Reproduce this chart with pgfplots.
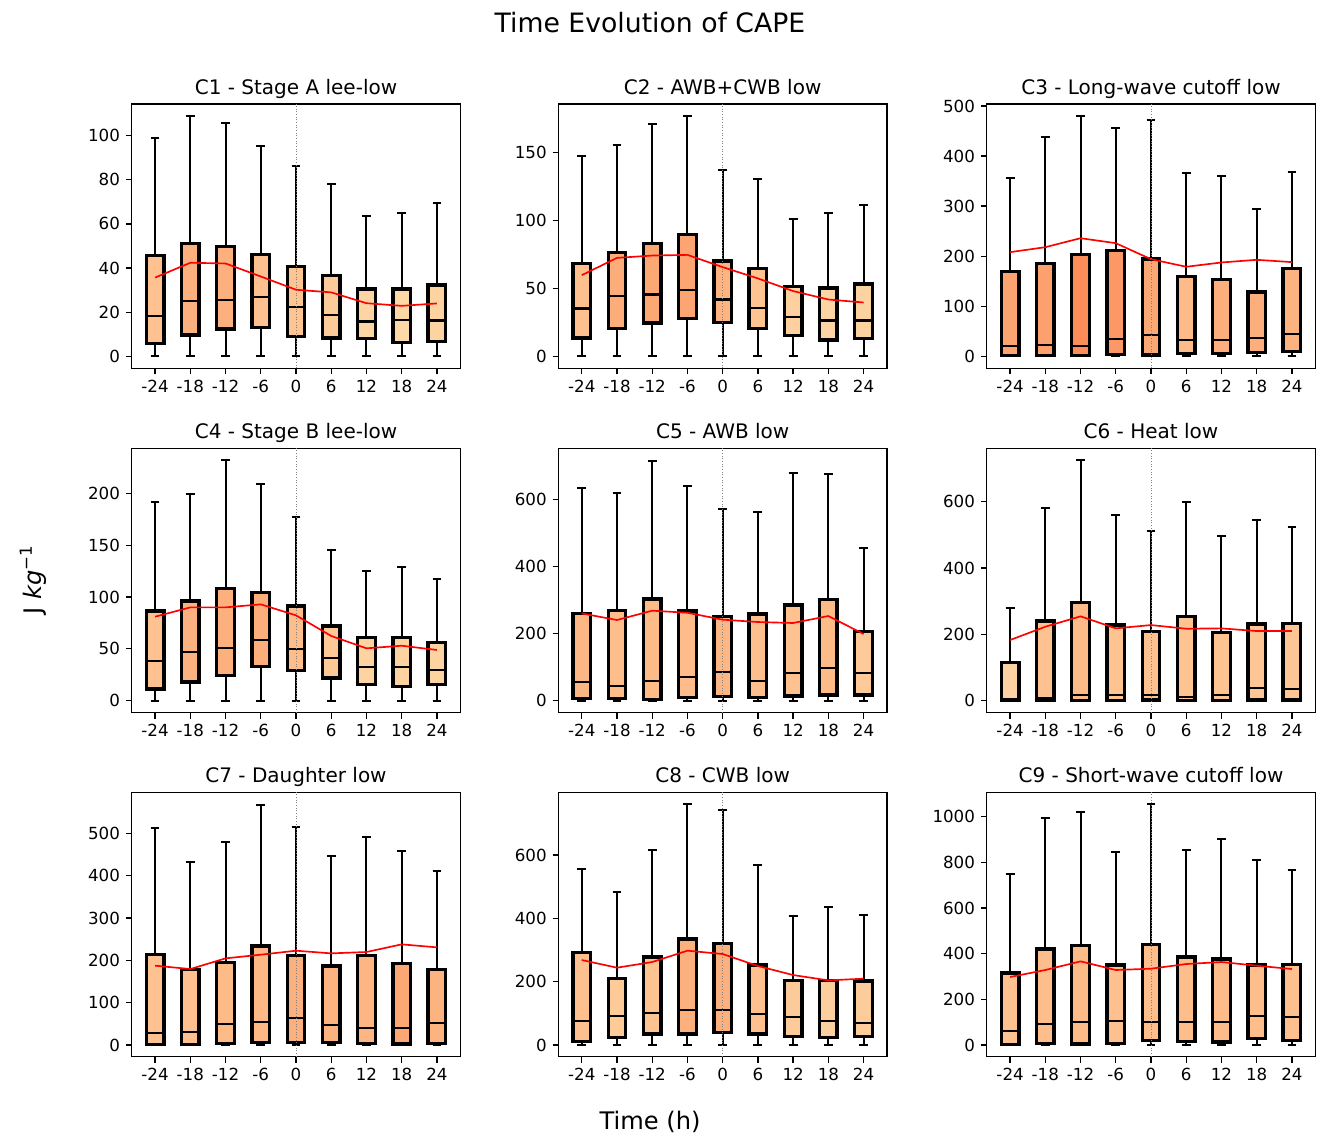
\documentclass[border=0pt]{standalone}
\usepackage{fontspec}
\setmainfont{DejaVu Sans}
\usepackage{pgfplots}
\pgfplotsset{compat=1.18}
\usepgfplotslibrary{statistics}

\definecolor{cL}{HTML}{FDD9A8}
\definecolor{cD}{HTML}{FC8D59}

% box: position, lower whisker, Q1, median, Q3, upper whisker, shade (0 light .. 100 dark)
% positions are 10,20,...,90 (one per time step)
\newcommand{\bx}[7]{%
  \addplot[black, fill={cD!#7!cL}, boxplot prepared={draw position=#1,
    lower whisker=#2, lower quartile=#3, median=#4,
    upper quartile=#5, upper whisker=#6,
    box extend=5, whisker extend=2.5}] coordinates {};}
\newcommand{\zeroline}{%
  \draw[gray, densely dotted, line width=0.6pt]
    ({axis cs:50,0} |- {rel axis cs:0,0}) -- ({axis cs:50,0} |- {rel axis cs:0,1});}

\pgfplotsset{
  panel/.style={
    disabledatascaling,
    scale only axis, width=197.2pt, height=158.6pt, anchor=north west,
    xmin=3.35, xmax=96.65,
    xtick={10,20,...,90}, xticklabels={-24,-18,-12,-6,0,6,12,18,24},
    xtick pos=left, ytick pos=left,
    tick align=outside, major tick length=3.5pt,
    tick style={black, line width=0.8pt},
    axis line style={black, line width=0.8pt},
    ticklabel style={font=\fontsize{10}{12}\selectfont},
    /pgf/number format/assume math mode=true,
    /pgf/number format/1000 sep={},
    every axis title/.style={at={(0.5,1)}, anchor=base, yshift=6pt,
      font=\fontsize{12}{14}\selectfont},
    boxplot/draw direction=y,
    boxplot/every box/.style={draw=black, line width=2pt},
    boxplot/every whisker/.style={black, line width=1.2pt},
    boxplot/every median/.style={black, line width=1.3pt},
  },
  meanline/.style={red, line width=1pt},
}

\begin{document}
\begin{tikzpicture}
\useasboundingbox (0,0) rectangle (792pt,-681pt);

% ---- row 1 ----
\begin{axis}[panel, at={(79pt,-62.4pt)}, title={C1 - Stage A lee-low},
  ymin=-5.4, ymax=114.3, ytick={0,20,...,100}]
\bx{10}{0}{5.9}{18.4}{45.7}{98.9}{30}
\bx{20}{0}{9.7}{25.2}{51.1}{109}{54}
\bx{30}{0}{12.4}{25.5}{49.8}{105.6}{54}
\bx{40}{0}{13.0}{26.8}{46.2}{95.3}{33}
\bx{50}{0}{9.0}{22.3}{40.7}{86.1}{26}
\bx{60}{0}{8.4}{18.9}{36.7}{78.0}{18}
\bx{70}{0}{8.0}{15.8}{30.5}{63.8}{5}
\bx{80}{0}{6.2}{16.6}{30.5}{65.0}{0}
\bx{90}{0}{6.8}{16.3}{32.3}{69.4}{8}
\zeroline
\addplot[meanline] coordinates {(10,35.7) (20,42.4) (30,42.1) (40,36.2) (50,30.2) (60,29.0) (70,24.1) (80,22.9) (90,24.0)};
\end{axis}

\begin{axis}[panel, at={(335pt,-62.4pt)}, title={C2 - AWB+CWB low},
  ymin=-8.8, ymax=185.5, ytick={0,50,100,150}]
\bx{10}{0}{13.5}{35.2}{68.3}{147.5}{33}
\bx{20}{0}{20.6}{44.3}{76.3}{155.4}{58}
\bx{30}{0}{24.5}{45.5}{82.9}{170.8}{64}
\bx{40}{0}{27.6}{48.9}{89.8}{176.7}{68}
\bx{50}{0}{24.7}{41.8}{70.2}{136.8}{49}
\bx{60}{0}{20.3}{35.7}{64.8}{130.4}{28}
\bx{70}{0}{15.4}{29.1}{51.6}{101.3}{12}
\bx{80}{0}{12.0}{26.4}{50.2}{105.5}{5}
\bx{90}{0.5}{13.0}{26.4}{53.1}{111.6}{9}
\zeroline
\addplot[meanline] coordinates {(10,59.7) (20,72.4) (30,74.1) (40,74.6) (50,65.6) (60,57.3) (70,48.0) (80,41.8) (90,39.6)};
\end{axis}

\begin{axis}[panel, at={(592pt,-62.4pt)}, title={C3 - Long-wave cutoff low},
  ymin=-24, ymax=504, ytick={0,100,...,500}]
\bx{10}{0}{1.3}{20.6}{169.5}{355.7}{70}
\bx{20}{0}{1.3}{23.3}{185.5}{438.8}{75}
\bx{30}{0}{1.3}{20}{202.8}{480}{100}
\bx{40}{0}{4}{34.6}{210.8}{456.8}{85}
\bx{50}{0}{2.7}{42.6}{194.1}{472.7}{64}
\bx{60}{0}{5.3}{31.9}{159.6}{367}{39}
\bx{70}{0}{5.3}{31.9}{152.9}{361}{55}
\bx{80}{0}{8}{35.9}{128.3}{295.2}{55}
\bx{90}{0}{10}{43.9}{174.9}{367.7}{50}
\zeroline
\addplot[meanline] coordinates {(10,208.1) (20,218) (30,236) (40,226) (50,194) (60,178.9) (70,187.5) (80,192.8) (90,188.2)};
\end{axis}

% ---- row 2 ----
\begin{axis}[panel, at={(79pt,-269pt)}, title={C4 - Stage B lee-low},
  ymin=-11.6, ymax=243.4, ytick={0,50,...,200}]
\bx{10}{0}{11.3}{38.3}{86.5}{191.6}{30}
\bx{20}{0}{18.0}{47.3}{96.1}{199.7}{51}
\bx{30}{0}{24.1}{51.1}{108}{231.8}{54}
\bx{40}{0}{32.8}{58.2}{104.5}{209.3}{57}
\bx{50}{0}{28.9}{49.8}{91.3}{176.8}{36}
\bx{60}{0}{21.9}{40.8}{72}{145.7}{21}
\bx{70}{0}{15.8}{32.2}{60.8}{125.4}{8}
\bx{80}{0}{13.8}{32.5}{60.8}{128.9}{8}
\bx{90}{0}{15.4}{29.9}{56.3}{117.7}{8}
\zeroline
\addplot[meanline] coordinates {(10,81) (20,90) (30,90) (40,92.9) (50,82.3) (60,62.4) (70,50.5) (80,53) (90,48.9)};
\end{axis}

\begin{axis}[panel, at={(335pt,-269pt)}, title={C5 - AWB low},
  ymin=-35.8, ymax=752, ytick={0,200,400,600}]
\bx{10}{0}{6}{56.6}{260.3}{632.8}{45}
\bx{20}{0}{6}{43.7}{269.2}{617.9}{36}
\bx{30}{0}{3}{58.6}{303}{715.2}{40}
\bx{40}{0}{8.9}{69.5}{267.2}{639.7}{38}
\bx{50}{0}{12.9}{85.4}{250.3}{572.2}{45}
\bx{60}{0}{9.9}{59.6}{258.3}{562.3}{34}
\bx{70}{0}{13.9}{81.5}{285.1}{679.5}{30}
\bx{80}{0}{16.9}{98.3}{302}{675.5}{40}
\bx{90}{0}{16.9}{82.4}{206.6}{456}{20}
\zeroline
\addplot[meanline] coordinates {(10,260) (20,240.4) (30,268.2) (40,262) (50,241.4) (60,234.4) (70,231.5) (80,252.3) (90,198.7)};
\end{axis}

\begin{axis}[panel, at={(592pt,-269pt)}, title={C6 - Heat low},
  ymin=-36.2, ymax=760.8, ytick={0,200,400,600}]
\bx{10}{0}{1}{6}{114.6}{280.4}{10}
\bx{20}{0}{1}{7}{240.2}{580}{30}
\bx{30}{0}{1}{17}{295.5}{724.6}{40}
\bx{40}{0}{1}{18}{228}{558.8}{28}
\bx{50}{0}{2}{17}{208}{511.6}{30}
\bx{60}{0}{1}{11}{254.3}{599}{28}
\bx{70}{0}{1}{18}{206}{497.5}{28}
\bx{80}{0}{2}{38}{231.2}{545.7}{25}
\bx{90}{0}{2}{36}{232.2}{524.6}{25}
\zeroline
\addplot[meanline] coordinates {(10,182.9) (20,223) (30,254.3) (40,218.1) (50,228) (60,217) (70,218) (80,210) (90,210)};
\end{axis}

% ---- row 3 ----
\begin{axis}[panel, at={(79pt,-475.4pt)}, title={C7 - Daughter low},
  ymin=-27.6, ymax=596.9, ytick={0,100,...,500}]
\bx{10}{0}{1.6}{29.1}{214.2}{513.4}{30}
\bx{20}{0}{1.6}{30.7}{178}{432.3}{33}
\bx{30}{0}{3.9}{48.8}{195.3}{479.5}{40}
\bx{40}{0}{5.5}{53.5}{233.9}{567.7}{43}
\bx{50}{0}{5.5}{64.6}{211}{515.7}{54}
\bx{60}{0}{6.3}{46.5}{186.6}{445.7}{50}
\bx{70}{0}{3.9}{40.9}{211}{491.3}{47}
\bx{80}{0}{2.4}{40.9}{192.1}{458.3}{64}
\bx{90}{0}{3.1}{52}{178.7}{411.8}{50}
\zeroline
\addplot[meanline] coordinates {(10,187.4) (20,179.5) (30,204.7) (40,213.4) (50,222.8) (60,216.5) (70,219.7) (80,237.8) (90,230.7)};
\end{axis}

\begin{axis}[panel, at={(335pt,-475.4pt)}, title={C8 - CWB low},
  ymin=-36.8, ymax=797.9, ytick={0,200,400,600}]
\bx{10}{0}{10.5}{76.8}{292.6}{555.8}{33}
\bx{20}{0}{23.2}{92.6}{210.5}{483.2}{20}
\bx{30}{0}{34.7}{102.1}{277.9}{615.8}{28}
\bx{40}{0}{34.7}{110.5}{334.7}{760}{54}
\bx{50}{0}{38.9}{110.5}{320}{741}{54}
\bx{60}{0}{34.7}{96.8}{252.6}{569.5}{33}
\bx{70}{0}{26.3}{87.4}{203.2}{407.4}{18}
\bx{80}{0}{24.2}{74.7}{203.2}{435.8}{13}
\bx{90}{0}{27.4}{70.5}{202.1}{410.5}{17}
\zeroline
\addplot[meanline] coordinates {(10,268.4) (20,244.2) (30,262.1) (40,297.9) (50,287.4) (60,249.5) (70,221) (80,204.2) (90,209.5)};
\end{axis}

\begin{axis}[panel, at={(592pt,-475.4pt)}, title={C9 - Short-wave cutoff low},
  ymin=-51.1, ymax=1106.6, ytick={0,200,...,1000}]
\bx{10}{0}{1.5}{62.8}{315.3}{750.4}{30}
\bx{20}{0}{7.3}{90.5}{420.4}{995.6}{35}
\bx{30}{0}{4.4}{99.3}{435}{1019}{40}
\bx{40}{0}{7.3}{106.6}{350.4}{843.8}{33}
\bx{50}{0}{20.4}{99.3}{439.4}{1054}{36}
\bx{60}{0}{14.6}{102.2}{385.4}{854}{36}
\bx{70}{0}{13.1}{102.2}{376.6}{903.6}{38}
\bx{80}{0}{29.2}{125.5}{350.4}{810.2}{35}
\bx{90}{0}{20.4}{122.6}{353.3}{767.9}{33}
\zeroline
\addplot[meanline] coordinates {(10,297.8) (20,328.5) (30,366.4) (40,328.5) (50,334.3) (60,354.7) (70,363.5) (80,347.4) (90,332.8)};
\end{axis}

\node[anchor=base, font=\fontsize{16}{19}\selectfont] at (390pt,-19.5pt) {Time Evolution of CAPE};
\node[anchor=base, font=\fontsize{14.5}{17}\selectfont] at (390pt,-677.5pt) {Time (h)};
\node[rotate=90, font=\fontsize{14.5}{17}\selectfont] at (20pt,-348pt)
  {J \textit{kg}\raisebox{0.42em}{\fontsize{10}{10}\selectfont −1}};
\end{tikzpicture}
\end{document}
